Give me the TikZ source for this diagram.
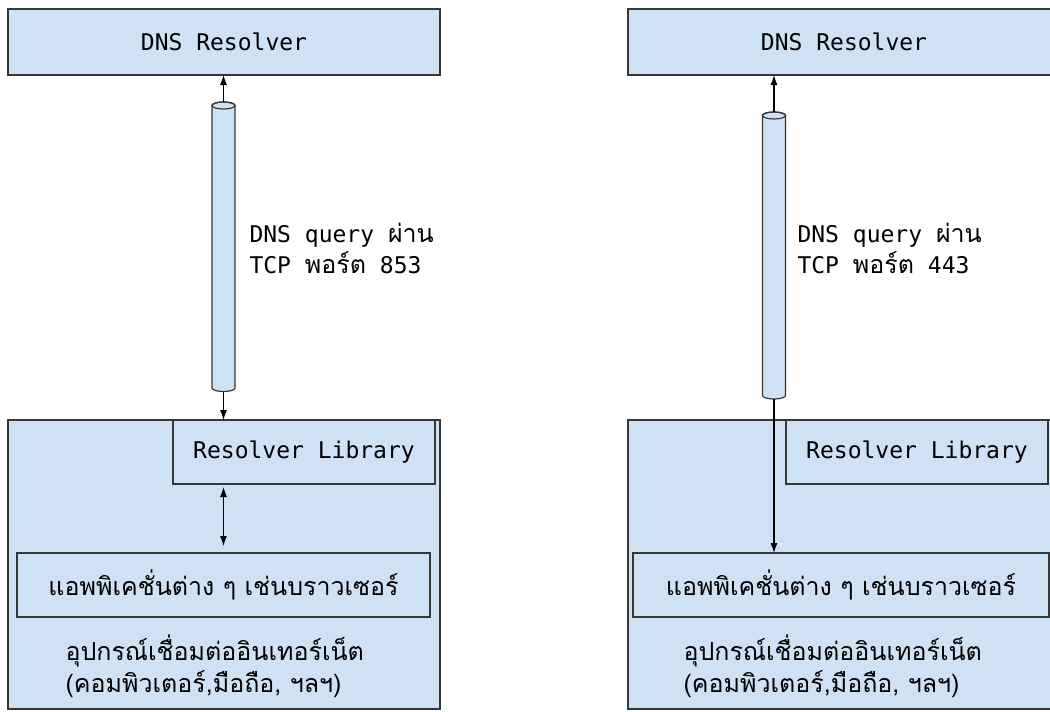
\documentclass[tikz,border=0pt]{standalone}
\usepackage{fontspec}
\setmonofont{DejaVu Sans Mono}
\newfontfamily\thaifont[Script=Thai]{Loma}
\usetikzlibrary{arrows.meta}

\definecolor{boxblue}{RGB}{207,226,243}
\definecolor{edgegray}{RGB}{55,55,55}

\newcommand\monotext{\ttfamily\fontsize{23}{31}\selectfont}
\newcommand\thaitext{\thaifont\fontsize{25}{32}\selectfont}

\tikzstyle{line} = [draw, -{Latex[length=10pt, width=7pt]}, line width=1.1pt]
\tikzstyle{box} = [draw=edgegray, fill=boxblue, line width=1.3pt, inner sep=0pt, outer sep=0pt, font=\monotext]
\tikzstyle{pipe} = [draw=edgegray, fill=boxblue, line width=1.2pt]

% tunnel drawn as an upright cylinder: x, y of top cap, y of bottom
\newcommand\tunnel[3]{
	\path[pipe] (#1-11.5,#2) -- (#1-11.5,#3) arc[start angle=180, end angle=360, x radius=11.5pt, y radius=3.5pt]
		-- (#1+11.5,#2) arc[start angle=0, end angle=180, x radius=11.5pt, y radius=3.5pt] -- cycle;
	\draw[edgegray, line width=1.2pt] (#1,#2) ellipse [x radius=11.5pt, y radius=3.5pt];
}

\begin{document}
\begin{tikzpicture}[x=1pt, y=-1pt]

	\path[use as bounding box, clip] (0,0) rectangle (1050,712);
	\fill[white] (0,0) rectangle (1050,712);

	% --- left: port 853 ---
	\node[box, minimum width=432, minimum height=66] (resL) at (224,42) {DNS Resolver};
	\node[box, minimum width=432, minimum height=289] (devL) at (224,564.5) {};
	\node[box, minimum width=262, minimum height=64] (libL) at (304,452) {Resolver Library};
	\node[box, minimum width=413, minimum height=64] (appL) at (223.5,585) {\thaitext แอพพิเคชั่นต่าง ๆ เช่นบราวเซอร์};
	\node[anchor=west, align=left, font=\thaitext] (devtxtL) at (62,666) {อุปกรณ์เชื่อมต่ออินเทอร์เน็ต\\(คอมพิวเตอร์,มือถือ, ฯลฯ)};

	\tunnel{223.5}{105.5}{388}
	\coordinate (tunLtop) at (223.5,102);
	\coordinate (tunLbot) at (223.5,391.5);
	\node[anchor=west, align=left, font=\monotext] (qryL) at (246,248) {DNS query {\thaitext ผ่าน}\\TCP {\thaitext พอร์ต} 853};

	\path [line] (tunLtop) -- (tunLtop |- resL.south);
	\path [line] (tunLbot) -- (tunLbot |- devL.north);
	\path [line, {Latex[length=10pt, width=7pt]}-{Latex[length=10pt, width=7pt]}, shorten <=3pt, shorten >=7pt] (libL.south -| tunLbot) -- (appL.north -| tunLbot);

	% --- right: port 443 ---
	\node[box, minimum width=432, minimum height=66] (resR) at (844,42) {DNS Resolver};
	\node[box, minimum width=432, minimum height=289] (devR) at (844,564.5) {};
	\node[box, minimum width=262, minimum height=64] (libR) at (917,452) {Resolver Library};
	\node[box, minimum width=416, minimum height=64] (appR) at (841,585) {\thaitext แอพพิเคชั่นต่าง ๆ เช่นบราวเซอร์};
	\node[anchor=west, align=left, font=\thaitext] (devtxtR) at (680,666) {อุปกรณ์เชื่อมต่ออินเทอร์เน็ต\\(คอมพิวเตอร์,มือถือ, ฯลฯ)};

	\tunnel{774}{115.5}{395.5}
	\coordinate (tunRtop) at (774,112);
	\coordinate (tunRbot) at (774,399);
	\node[anchor=west, align=left, font=\monotext] (qryR) at (794,248) {DNS query {\thaitext ผ่าน}\\TCP {\thaitext พอร์ต} 443};

	\path [line] (tunRtop) -- (tunRtop |- resR.south);
	\path [line] (tunRbot) -- (tunRbot |- appR.north);

\end{tikzpicture}
\end{document}
